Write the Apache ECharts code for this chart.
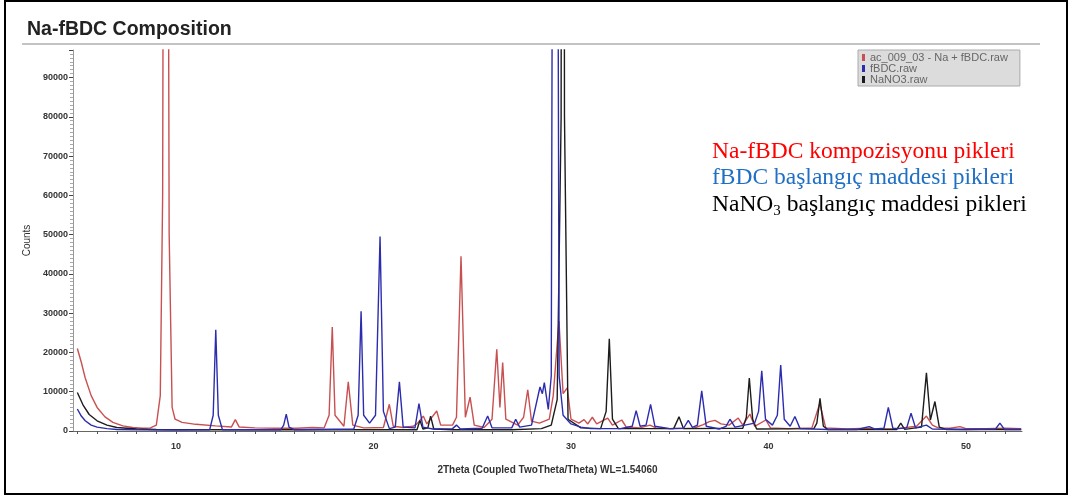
<!DOCTYPE html>
<html>
<head>
<meta charset="utf-8">
<script src="https://cdn.jsdelivr.net/npm/echarts@6/dist/echarts.min.js"></script>
<style>
  html, body { margin: 0; padding: 0; background: #fff; }
  #main { width: 1074px; height: 499px; }
</style>
</head>
<body>
<div id="main"></div>
<script>
// series names as in the legend
var seriesNames = ['ac_009_03 - Na + fBDC.raw', 'fBDC.raw', 'NaNO3.raw']

// x axis ticks: every degree, labels every 10
var xTicks = [5,6,7,8,9,10,11,12,13,14,15,16,17,18,19,20,21,22,23,24,25,26,27,28,29,30,31,32,33,34,35,36,37,38,39,40,41,42,43,44,45,46,47,48,49,50,51,52]
var xLabels = [10, 20, 30, 40, 50]

// [2theta, counts]
var redPoints = [
  [5.0,21000],[5.2,17500],[5.4,13500],[5.7,9000],[6.0,6000],[6.4,3600],[6.8,2200],[7.3,1300],[7.8,900],[8.3,700],[8.7,800],
  [9.0,1500],[9.2,9000],[9.32,60000],[9.47,400000],[9.65,50000],[9.8,6000],[9.95,3000],[10.3,2200],[11,1700],[12,1300],[12.8,1000],
  [13.0,2900],[13.2,1000],[14,800],[15,700],[15.8,700],[15.9,1200],[16.1,700],[16.9,900],[17.5,800],[17.75,4000],[17.91,26500],
  [18.05,4000],[18.5,1200],[18.72,12500],[18.95,1500],[19.5,800],[20.5,900],[20.8,6800],[21.0,1200],[21.5,900],[22.0,1200],
  [22.2,1800],[22.52,3800],[22.7,1800],[23.2,5100],[23.4,1500],[24.0,1500],[24.2,3500],[24.43,44500],[24.65,3500],[24.89,8600],
  [25.1,1500],[25.6,900],[26.0,3000],[26.24,20800],[26.4,6000],[26.54,17400],[26.7,3000],[27.3,1500],[27.6,3500],[27.81,10500],
  [28.0,2500],[28.4,2000],[28.9,3000],[29.1,9000],[29.39,28000],[29.6,9500],[29.81,11000],[30.0,3000],[30.4,2000],[30.66,2900],
  [30.85,1800],[31.08,3500],[31.3,1800],[31.86,3300],[32.1,1500],[32.57,2800],[32.8,1000],[33.5,800],[34.0,1500],[34.3,800],
  [35,600],[36.2,700],[36.7,1600],[37.0,2400],[37.29,2700],[37.6,1800],[38.0,1500],[38.47,3300],[38.7,1500],[39.06,4300],
  [39.3,1200],[39.87,2800],[40.1,800],[41,600],[42.2,800],[42.6,7000],[42.9,800],[44,500],[45,700],[45.3,500],[46.5,600],
  [47.5,1200],[48.0,3800],[48.3,1500],[48.6,800],[49.2,700],[49.7,1100],[50.0,600],[51,600],[52,700],[52.8,600]
]
var bluePoints = [
  [5.0,5600],[5.2,3800],[5.4,2600],[5.7,1500],[6.0,1000],[6.5,600],[7,400],[8,300],[10,250],[11.7,300],[11.88,4000],[12.01,25800],
  [12.14,4000],[12.35,300],[15.3,300],[15.45,1500],[15.58,4300],[15.72,1000],[16,300],[19.0,500],[19.22,4000],[19.37,30500],
  [19.5,4000],[19.8,2000],[20.1,4000],[20.33,49500],[20.5,5000],[20.8,600],[21.1,1000],[21.31,12500],[21.5,1000],[22.1,800],
  [22.3,7000],[22.5,1000],[23,500],[24.0,600],[24.2,1500],[24.4,500],[25.5,700],[25.78,3800],[26.0,800],[27.0,800],[27.2,3000],
  [27.4,1000],[28.0,1500],[28.43,11200],[28.55,9500],[28.65,12300],[28.85,5500],[29.0,14000],[29.19,400000],[29.4,14000],
  [29.6,4000],[30.0,1800],[30.5,1000],[31,600],[32.5,600],[33.1,1200],[33.3,5200],[33.5,1200],[33.8,1500],[34.03,6800],
  [34.25,1200],[35,600],[35.7,700],[35.94,2700],[36.15,900],[36.4,1500],[36.62,10200],[36.85,1200],[37.5,500],[37.85,1200],
  [38.05,3000],[38.3,1000],[39.3,2000],[39.5,5000],[39.66,15300],[39.85,3000],[40.2,1500],[40.45,4000],[40.62,16800],[40.8,3000],
  [41.1,1200],[41.34,3700],[41.6,600],[43,400],[44.5,400],[45.1,1100],[45.4,500],[45.85,700],[46.07,6000],[46.3,700],[46.6,600],
  [47.0,800],[47.22,4500],[47.45,800],[48.0,1500],[48.3,500],[50,400],[51.5,500],[51.72,2000],[51.95,400],[52.8,400]
]
var blackPoints = [
  [5.0,9800],[5.1,9500],[5.3,6500],[5.6,4200],[6.0,2600],[6.5,1500],[7,900],[8,500],[9,400],[12,300],[20,300],[22.2,300],
  [22.35,2700],[22.5,500],[22.75,800],[22.89,3800],[23.05,500],[24,300],[27,300],[28.5,600],[29.0,1500],[29.3,8000],[29.5,80000],
  [29.58,500000],[29.67,80000],[29.85,3000],[30.5,800],[31.5,600],[31.78,5000],[31.94,23500],[32.1,3000],[32.4,600],[35.2,600],
  [35.47,3600],[35.7,600],[38.7,700],[38.88,3500],[39.03,13500],[39.2,3000],[39.4,500],[42.3,600],[42.45,2000],[42.61,8300],
  [42.78,1200],[43,400],[46.5,400],[46.7,2000],[46.9,400],[47.75,1000],[48.0,14800],[48.2,2800],[48.43,7500],[48.65,1000],
  [49,400],[52.8,400]
]

var colors = ['#c85050', '#2c2cae', '#1c1c1c']

var chart = echarts.init(document.getElementById('main'))

var option = {
  animation: false,
  title: {
    text: 'Na-fBDC Composition',
    left: 22, top: 15,
    textStyle: { fontFamily: 'Liberation Sans', fontSize: 19.5, fontWeight: 'bold', color: '#222' }
  },
  legend: {
    orient: 'vertical',
    left: 858, top: 50,
    data: seriesNames,
    icon: 'rect',
    itemWidth: 3, itemHeight: 7, itemGap: 0,
    backgroundColor: '#dcdcdc',
    borderColor: '#aaa', borderWidth: 1,
    padding: [2, 12, 1, 4],
    textStyle: { fontFamily: 'Liberation Sans', fontSize: 11, lineHeight: 10, color: '#666' }
  },
  grid: { left: 73, right: 52, top: 50, bottom: 68 },
  xAxis: {
    type: 'value',
    min: 4.78, max: 52.84,
    name: '2Theta (Coupled TwoTheta/Theta) WL=1.54060',
    nameLocation: 'middle', nameGap: 34,
    nameTextStyle: { fontFamily: 'Liberation Sans', fontSize: 10, fontWeight: 'bold', color: '#333' },
    axisLine: { lineStyle: { color: '#666' } },
    axisTick: { length: 3, customValues: xTicks, lineStyle: { color: '#555' } },
    axisLabel: {
      margin: 11, customValues: xLabels,
      fontFamily: 'Liberation Sans', fontSize: 9, fontWeight: 'bold', color: '#333'
    },
    splitLine: { show: false }
  },
  yAxis: {
    type: 'value',
    min: 0, max: 97000, interval: 10000,
    name: 'Counts',
    nameLocation: 'middle', nameGap: 30, nameRotate: 90,
    nameTextStyle: { fontFamily: 'Liberation Sans', fontSize: 10, color: '#333' },
    axisLine: { show: true, lineStyle: { color: '#999' } },
    axisTick: { show: true, length: 4, lineStyle: { color: '#444' } },
    minorTick: { show: true, splitNumber: 10, length: 3, lineStyle: { color: '#aaa' } },
    axisLabel: {
      margin: 5, showMaxLabel: false,
      fontFamily: 'Liberation Sans', fontSize: 9, fontWeight: 'bold', color: '#333',
      formatter: function (v) { return String(v) }
    },
    splitLine: { show: false }
  },
  graphic: [
    { type: 'rect', shape: { x: 5, y: 1, width: 1062, height: 493 }, style: { fill: 'none', stroke: '#000', lineWidth: 2 }, silent: true },
    { type: 'line', shape: { x1: 22, y1: 44, x2: 1040, y2: 44 }, style: { stroke: '#888', lineWidth: 1 }, silent: true },
    { type: 'text', left: 712, top: 140, style: { text: 'Na-fBDC kompozisyonu pikleri', font: '23.5px "Liberation Serif"', fill: '#ff0000' } },
    { type: 'text', left: 712, top: 166, style: { text: 'fBDC başlangıç maddesi pikleri', font: '23.5px "Liberation Serif"', fill: '#1f6fc4' } },
    { type: 'text', left: 712, top: 193, style: {
        text: '{a|NaNO}{s|3}{a| başlangıç maddesi pikleri}',
        rich: {
          a: { fontFamily: 'Liberation Serif', fontSize: 23.5, fill: '#000', lineHeight: 26, verticalAlign: 'bottom' },
          s: { fontFamily: 'Liberation Serif', fontSize: 15, fill: '#000', lineHeight: 26, verticalAlign: 'bottom', padding: [0, 0, -2, 0] }
        }
      } }
  ],
  series: [
    { name: seriesNames[0], type: 'line', data: redPoints, showSymbol: false, clip: true, lineStyle: { width: 1.4 }, color: colors[0], z: 2 },
    { name: seriesNames[2], type: 'line', data: blackPoints, showSymbol: false, clip: true, lineStyle: { width: 1.4 }, color: colors[2], z: 3 },
    { name: seriesNames[1], type: 'line', data: bluePoints, showSymbol: false, clip: true, lineStyle: { width: 1.4 }, color: colors[1], z: 4 }
  ]
}

chart.setOption(option)
</script>
</body>
</html>
